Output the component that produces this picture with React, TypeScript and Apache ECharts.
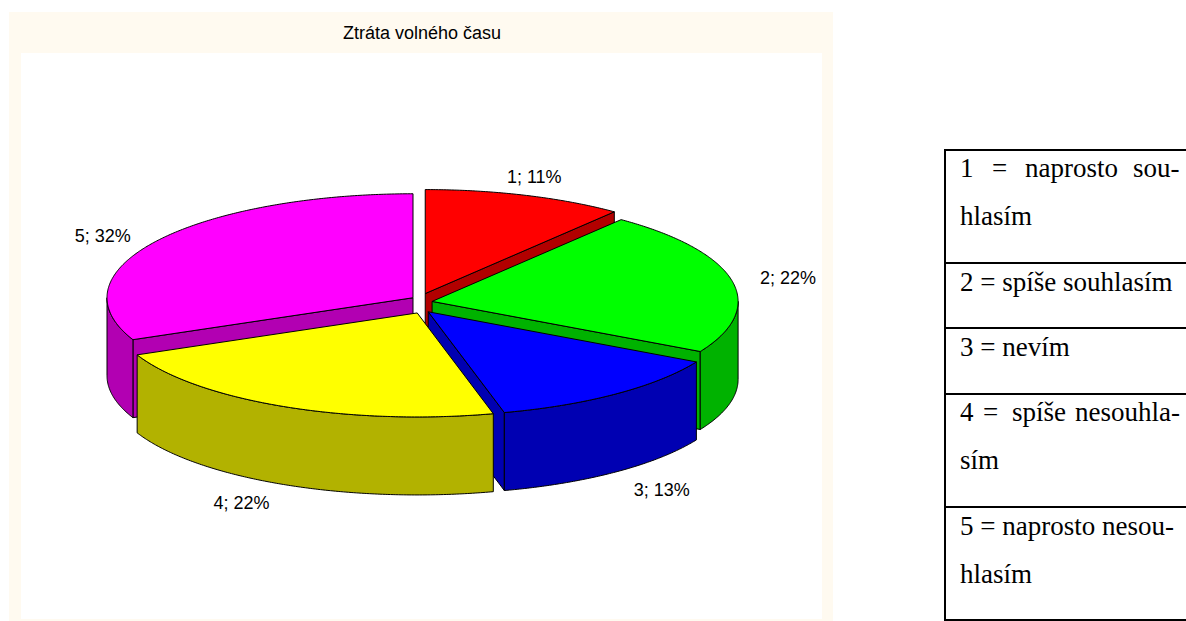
import React, { useEffect, useRef } from "react";
import * as echarts from "echarts";

const chartTitle = "Ztráta volného času";
const categories = ["1", "2", "3", "4", "5"];
const shares = [10.6, 22.4, 13.0, 22.4, 31.6];
const topColors = ["#ff0000", "#00ff00", "#0000ff", "#ffff00", "#ff00ff"];
const sideColors = ["#b20000", "#00b200", "#0000b2", "#b2b200", "#b200b2"];
// back-to-front painting order of the slices
const drawOrder = [0, 4, 1, 2, 3];
// label offsets from the rim point of each slice's middle angle
const labelNudges = [[9, -18], [56, -3], [46, 18], [-42, 19], [-54, -5]];

const legendLines: [string, number, number][] = [
  ["1", 960, 176], ["=", 992, 176], ["naprosto", 1025, 176], ["sou-", 1133, 176],
  ["hlasím", 960, 224],
  ["2 = spíše souhlasím", 960, 290],
  ["3 = nevím", 960, 355],
  ["4", 960, 420], ["=", 983, 420], ["spíše", 1012, 420], ["nesouhla-", 1075, 420],
  ["sím", 960, 468],
  ["5 = naprosto nesou-", 960, 534],
  ["hlasím", 960, 582],
];
const tableRules = [150, 263, 328, 394, 507, 620];

const CX = 421.8, CY = 303.5, RX = 306, RY = 104, DEPTH = 78, EXPLODE = 10.5;
const total = shares.reduce((a, b) => a + b, 0);
const rad = (deg: number) => (deg * Math.PI) / 180;

function sliceAngles(i: number) {
  let start = 0;
  for (let k = 0; k < i; k++) start += (shares[k] / total) * 360;
  return [start, start + (shares[i] / total) * 360];
}

function arc(ax: number, ay: number, from: number, to: number) {
  const pts: number[][] = [];
  const steps = Math.max(2, Math.ceil(Math.abs(to - from) * 2));
  for (let s = 0; s <= steps; s++) {
    const a = rad(from + ((to - from) * s) / steps);
    pts.push([ax + RX * Math.sin(a), ay - RY * Math.cos(a)]);
  }
  return pts;
}

function renderSlice(_params: any, api: any) {
  const i = api.value(0);
  const [a0, a1] = sliceAngles(i);
  const mid = (a0 + a1) / 2;
  const ax = CX + EXPLODE * Math.sin(rad(mid));
  const ay = CY - EXPLODE * Math.cos(rad(mid));
  const stroke = { stroke: "#000", lineWidth: 1, lineJoin: "round" };
  const children: any[] = [];
  const cutFace = (angle: number) => {
    const p = arc(ax, ay, angle, angle)[0];
    children.push({
      type: "polygon",
      shape: { points: [[ax, ay], p, [p[0], p[1] + DEPTH], [ax, ay + DEPTH]] },
      style: { fill: sideColors[i], ...stroke },
    });
  };
  // a cut face shows only when its outward normal points down the screen
  if (Math.sin(rad(a1)) > 1e-6) cutFace(a1);
  if (Math.sin(rad(a0)) < -1e-6) cutFace(a0);
  // outer wall: only the part of the rim on the near half of the ellipse
  const w0 = Math.max(a0, 90), w1 = Math.min(a1, 270);
  if (w1 > w0) {
    const rim = arc(ax, ay, w0, w1);
    const low = rim.map((p) => [p[0], p[1] + DEPTH]).reverse();
    children.push({
      type: "polygon",
      shape: { points: [...rim, ...low] },
      style: { fill: sideColors[i], ...stroke },
    });
  }
  children.push({
    type: "polygon",
    shape: { points: [[ax, ay], ...arc(ax, ay, a0, a1)] },
    style: { fill: topColors[i], ...stroke },
  });
  const rimMid = arc(ax, ay, mid, mid)[0];
  const below = Math.abs(mid - 180) < 60 ? DEPTH : 0;
  children.push({
    type: "text",
    x: rimMid[0] + labelNudges[i][0],
    y: rimMid[1] + below + labelNudges[i][1],
    style: {
      text: `${categories[i]}; ${Math.round(shares[i])}%`,
      font: '18px "Liberation Sans"',
      fill: "#000",
      align: "center",
      verticalAlign: "middle",
    },
  });
  return { type: "group", children };
}

export default function App() {
  const ref = useRef<HTMLDivElement>(null);
  useEffect(() => {
    const chart = echarts.init(ref.current!, undefined, { renderer: "svg" });
    const graphic: any[] = [
      { type: "rect", shape: { x: 9, y: 12, width: 824, height: 609 }, style: { fill: "#fffaf0" }, silent: true },
      { type: "rect", shape: { x: 21, y: 53, width: 801, height: 566 }, style: { fill: "#ffffff" }, silent: true },
      ...tableRules.map((y) => ({
        type: "line",
        shape: { x1: 944, y1: y, x2: 1186, y2: y },
        style: { stroke: "#000", lineWidth: 2 },
      })),
      { type: "line", shape: { x1: 945, y1: 149, x2: 945, y2: 621 }, style: { stroke: "#000", lineWidth: 2 } },
      ...legendLines.map(([text, x, y]) => ({
        type: "text",
        x,
        y: y + 5,
        style: {
          text,
          font: '27px "Liberation Serif"',
          fill: "#000",
          align: "left",
          verticalAlign: "bottom",
        },
      })),
    ];
    chart.setOption({
      animation: false,
      backgroundColor: "#ffffff",
      title: {
        text: chartTitle,
        left: 417,
        top: 19,
        textAlign: "center",
        textStyle: { fontFamily: "Liberation Sans", fontSize: 18, fontWeight: "normal", color: "#000" },
      },
      graphic,
      series: [
        {
          type: "custom",
          coordinateSystem: "none",
          silent: true,
          clip: false,
          renderItem: renderSlice,
          data: drawOrder.map((i) => [i, shares[i]]),
        },
      ],
    });
    return () => chart.dispose();
  }, []);
  return <div ref={ref} style={{ position: "absolute", left: 0, top: 0, width: 1186, height: 621 }} />;
}
